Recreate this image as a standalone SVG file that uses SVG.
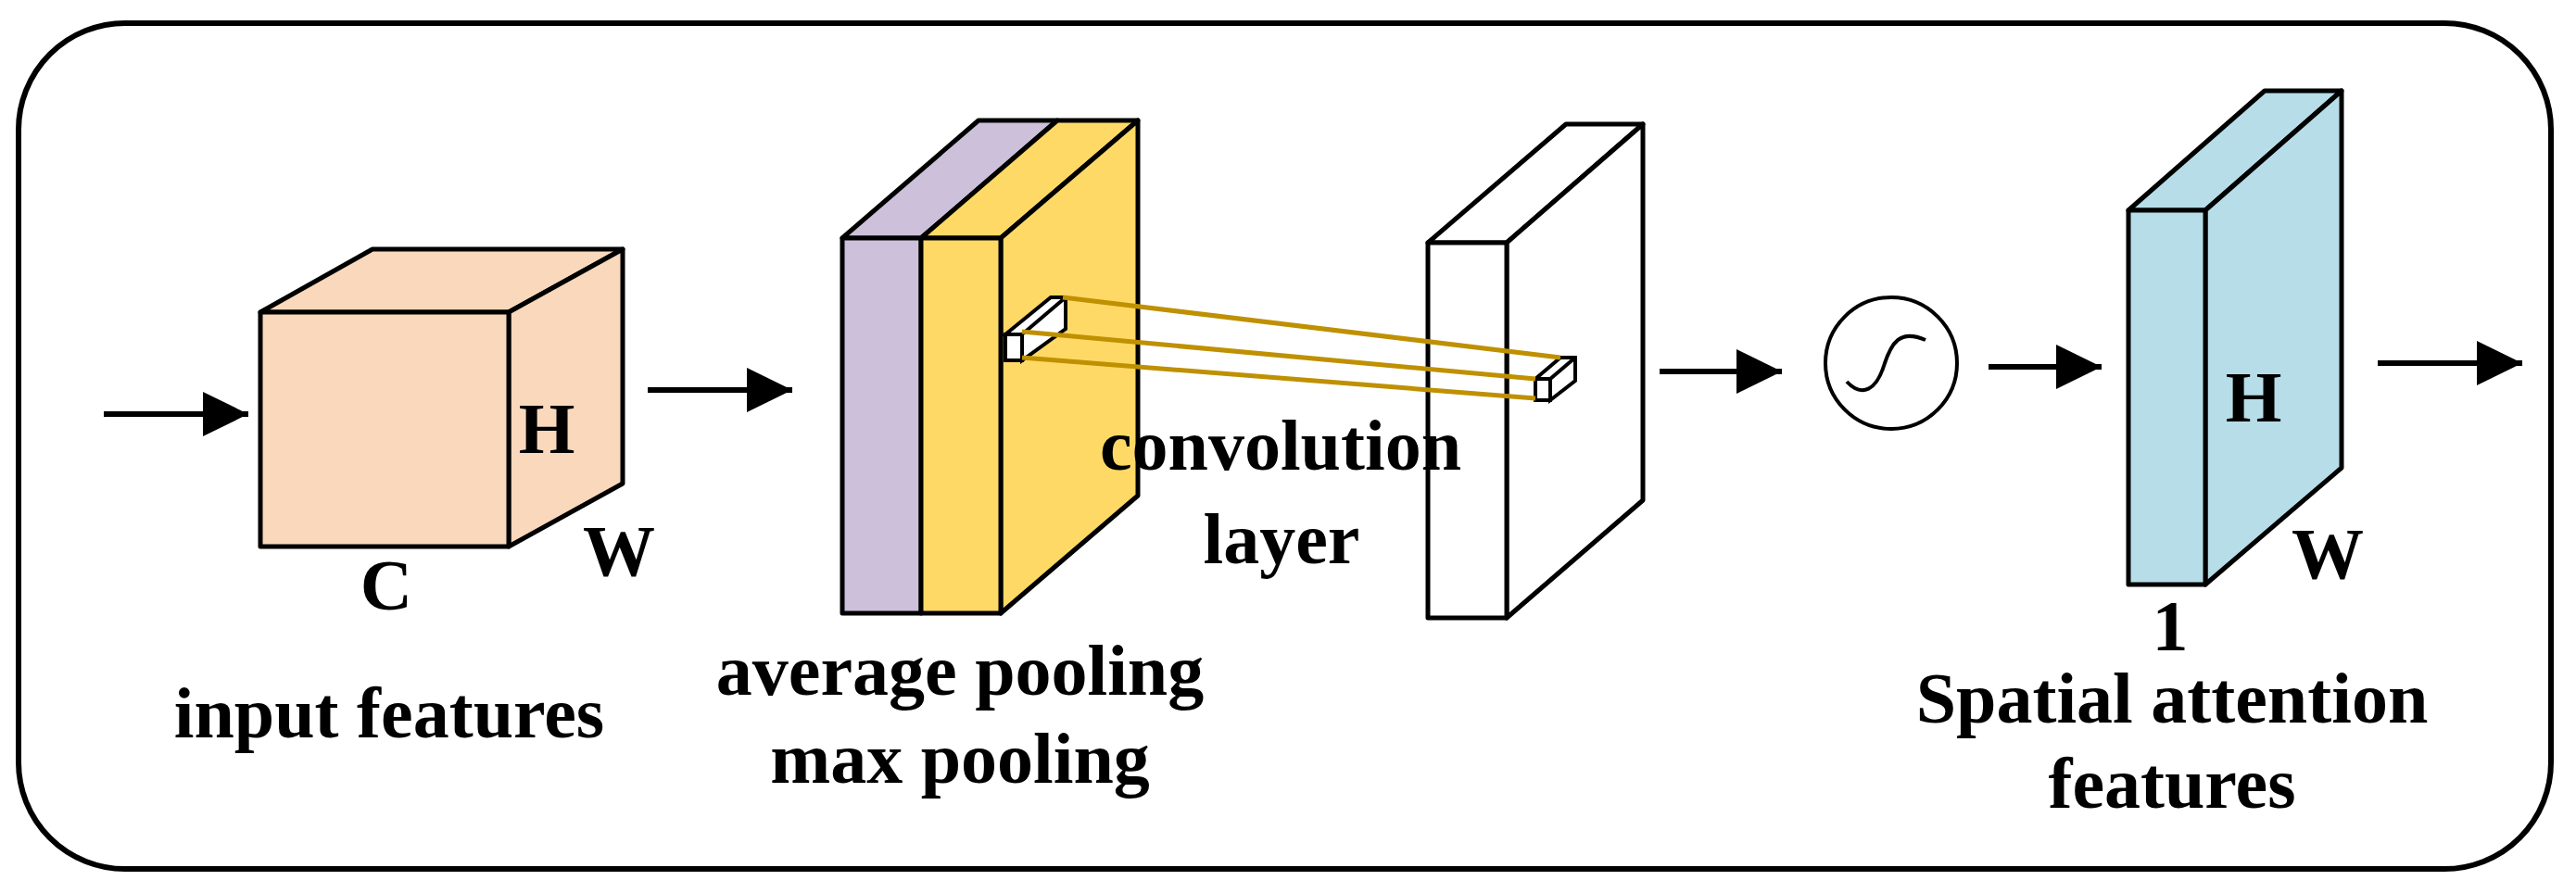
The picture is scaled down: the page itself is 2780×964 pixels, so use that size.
<svg xmlns="http://www.w3.org/2000/svg" width="2780" height="964" viewBox="0 0 2780 964">
<style>
.s{stroke:#000;stroke-width:5;stroke-linejoin:round}
.a{stroke:#000;stroke-width:6;fill:none}
.g{stroke:#BF9000;stroke-width:5;fill:none}
text{font-family:"Liberation Serif","Times New Roman",serif;font-weight:bold;font-size:78px;fill:#000;text-anchor:middle}
</style>
<defs>
<marker id="ah" markerUnits="userSpaceOnUse" markerWidth="50" markerHeight="48" refX="49" refY="24" orient="auto"><path d="M0,0 L49,24 L0,48 Z" fill="#000"/></marker>
</defs>
<rect x="20" y="25" width="2733" height="913" rx="115" ry="115" fill="#fff" stroke="#000" stroke-width="6"/>
<g id="connectors">
<line class="a" x1="112" y1="447" x2="268" y2="447" marker-end="url(#ah)"/>
<line class="a" x1="699" y1="421" x2="855" y2="421" marker-end="url(#ah)"/>
<line class="a" x1="1791" y1="401" x2="1923" y2="401" marker-end="url(#ah)"/>
<line class="a" x1="2146" y1="396" x2="2268" y2="396" marker-end="url(#ah)"/>
<line class="a" x1="2566" y1="392" x2="2722" y2="392" marker-end="url(#ah)"/>
</g>
<g id="input">
<polygon class="s" fill="#F9D8BC" points="281,337 402,269 672,269 549,337"/>
<polygon class="s" fill="#F9D8BC" points="549,337 672,269 672,522 549,590"/>
<rect class="s" fill="#F9D8BC" x="281" y="337" width="268" height="253"/>
<text x="590" y="489">H</text>
<text x="668" y="621">W</text>
<text x="417" y="658">C</text>
<text x="420" y="796">input features</text>
</g>
<g id="pooling">
<polygon class="s" fill="#CCC0DA" points="909,257 1056,130 1141,130 994,257"/>
<rect class="s" fill="#CCC0DA" x="909" y="257" width="85" height="405"/>
<polygon class="s" fill="#FFD966" points="994,257 1141,130 1228,130 1080,257"/>
<polygon class="s" fill="#FFD966" points="1080,257 1228,130 1228,535 1080,662"/>
<rect class="s" fill="#FFD966" x="994" y="257" width="86" height="405"/>
<polygon fill="#fff" stroke="#000" stroke-width="4" points="1085,361 1134,321 1150,321 1150,355 1103,389 1103,361"/>
<line x1="1103" y1="361" x2="1150" y2="321" stroke="#000" stroke-width="4"/>
<rect x="1085" y="361" width="18" height="28" fill="#fff" stroke="#000" stroke-width="4"/>
<text x="1036" y="750">average pooling</text>
<text x="1036" y="845">max pooling</text>
</g>
<g id="conv">
<polygon class="s" fill="#fff" points="1541,262 1690,134 1773,134 1626,262"/>
<polygon class="s" fill="#fff" points="1626,262 1773,134 1773,540 1626,667"/>
<rect class="s" fill="#fff" x="1541" y="262" width="85" height="405"/>
<polygon fill="#fff" stroke="#000" stroke-width="4" points="1657,409 1684,386 1700,386 1700,411 1673,432 1673,409"/>
<line x1="1673" y1="409" x2="1700" y2="386" stroke="#000" stroke-width="4"/>
<rect x="1657" y="409" width="16" height="23" fill="#fff" stroke="#000" stroke-width="4"/>
</g>
<g id="kernel-lines">
<line class="g" x1="1147" y1="321" x2="1684" y2="386"/>
<line class="g" x1="1103" y1="358" x2="1657" y2="409"/>
<line class="g" x1="1103" y1="386" x2="1657" y2="430"/>
</g>
<text x="1382" y="507">convolution</text>
<text x="1383" y="608">layer</text>
<g id="sigmoid">
<circle cx="2041" cy="392" r="71" fill="#fff" stroke="#000" stroke-width="4"/>
<path d="M1993,412 C2010,430 2025,420 2033,395 C2041,370 2050,355 2078,367" fill="none" stroke="#000" stroke-width="4"/>
</g>
<g id="attention">
<polygon class="s" fill="#B7DEE8" points="2297,227 2444,98 2527,98 2380,227"/>
<polygon class="s" fill="#B7DEE8" points="2380,227 2527,98 2527,505 2380,631"/>
<rect class="s" fill="#B7DEE8" x="2297" y="227" width="83" height="404"/>
<text x="2432" y="455">H</text>
<text x="2512" y="624">W</text>
<text x="2342" y="702">1</text>
<text x="2344" y="780">Spatial attention</text>
<text x="2344" y="872">features</text>
</g>
</svg>
